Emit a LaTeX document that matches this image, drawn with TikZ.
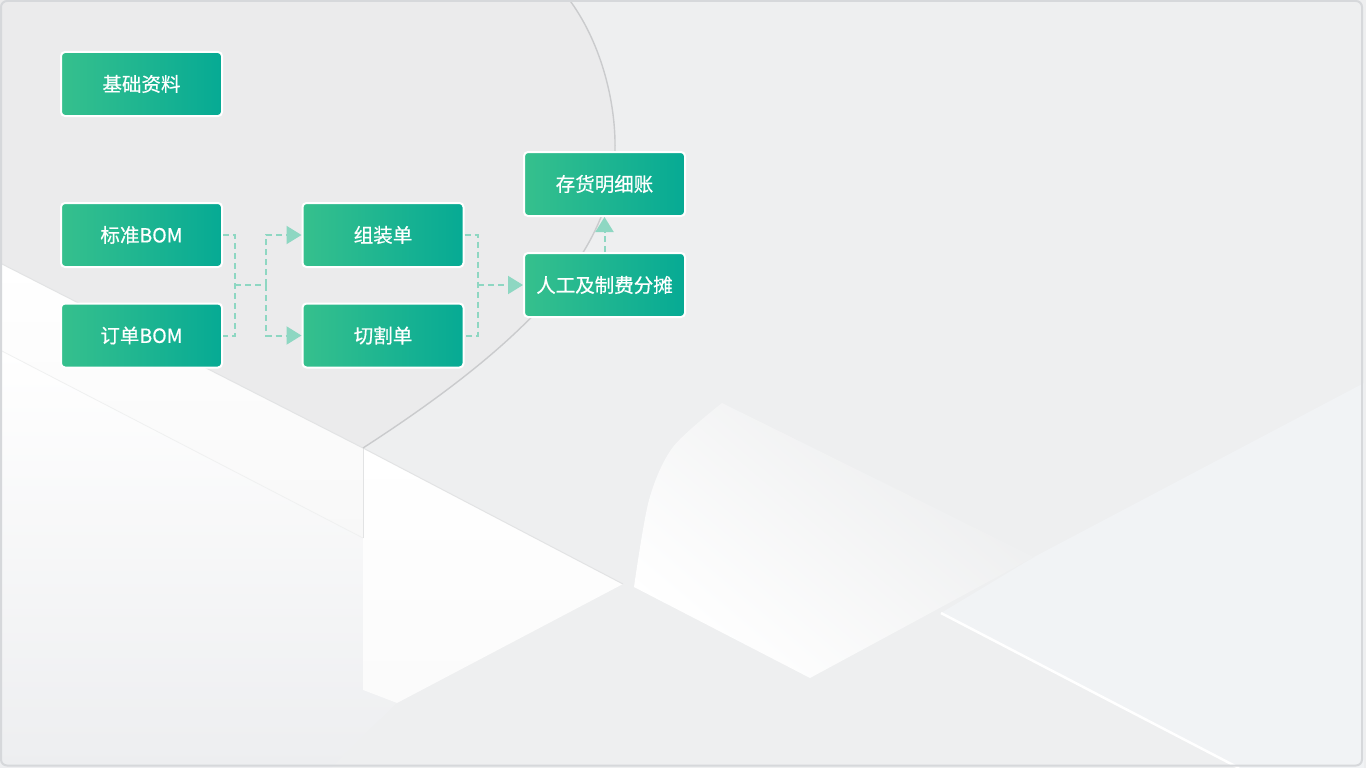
\documentclass[tikz,border=0pt]{standalone}
\usepackage{fontspec}
\newfontfamily\cjkfont[FakeBold=0.5]{Noto Sans CJK SC}
\usetikzlibrary{arrows.meta}
\definecolor{bgbase}{RGB}{238,239,240}
\definecolor{circin}{RGB}{235,235,236}
\definecolor{arcgray}{RGB}{202,203,205}
\definecolor{gleft}{RGB}{54,192,141}
\definecolor{gright}{RGB}{6,170,148}
\definecolor{conncol}{RGB}{142,215,194}
\definecolor{framecol}{RGB}{214,216,219}
\definecolor{lowgray}{RGB}{237,238,240}
\definecolor{lowtop}{RGB}{248,248,248}
\definecolor{rightlite}{RGB}{241,243,245}
\definecolor{plankedge}{RGB}{226,227,228}
\definecolor{quadtop}{RGB}{236,237,238}
\tikzset{
  flowbox/.style={rectangle, rounded corners=4pt, draw=white, line width=2pt,
    left color=gleft, right color=gright, minimum width=161pt, minimum height=64pt,
    inner sep=0pt, text=white, font=\cjkfont\fontsize{19.5}{23}\selectfont},
  conn/.style={draw=conncol, line width=2pt, dash pattern=on 6pt off 4pt},
  arr/.style={-{Triangle[length=15pt,width=18pt,fill=conncol]}},
}
\begin{document}
\begin{tikzpicture}[x=1pt,y=-1pt]
\useasboundingbox (0,0) rectangle (1366,768);
% ---- background ----
\fill[bgbase] (0,0) rectangle (1366,768);
\fill[circin] (0,0) -- (568,-2) .. controls (600,40) and (616,100) .. (615,150)
  .. controls (613,250) and (530,340) .. (363,448) -- (0,263) -- cycle;
\shade[top color=white, bottom color=lowgray] (0,350) -- (363,538) -- (363,690) -- (397,703) -- (330,768) -- (0,768) -- cycle;
\shade[top color=white, bottom color=lowtop] (0,263) -- (363,448) -- (363,538) -- (0,350) -- cycle;
\shade[top color=white, bottom color=lowtop!60!white] (363,448) -- (623,584) -- (397,703) -- (363,690) -- cycle;
\draw[plankedge, line width=1pt] (0,263) -- (363,448) -- (623,584);
\draw[plankedge, line width=0.8pt] (363,448) -- (363,538);
\draw[plankedge!50!white, line width=0.8pt] (0,350) -- (363,538);
\fill[rightlite] (1034,557) -- (1364,383) -- (1364,768) -- (1239,768) -- (941,613) -- cycle;
\shade[top color=quadtop, bottom color=white, shading angle=-40] plot[smooth] coordinates {(722,403) (673,447) (649,500) (634,587)} -- (810,678) -- (1034,557) -- cycle;
\draw[white, line width=2.5pt] (941,613) -- (1239,768);
\draw[arcgray, line width=1.4pt] (568,-2) .. controls (600,40) and (616,100) .. (615,150)
  .. controls (613,250) and (530,340) .. (363,448);
\draw[framecol, line width=2pt, rounded corners=6pt] (1,1) rectangle (1362,765.5);
% ---- nodes ----
\node[flowbox] (jc) at (141.5,84) {基础资料};
\node[flowbox] (bz) at (141.5,235) {标准BOM};
\node[flowbox] (dd) at (141.5,335.5) {订单BOM};
\node[flowbox] (zz) at (383,235) {组装单};
\node[flowbox] (qg) at (383,335.5) {切割单};
\node[flowbox] (ch) at (604.5,184) {存货明细账};
\node[flowbox] (rg) at (604.5,285) {人工及制费分摊};
\coordinate (j1) at (235,285);
\coordinate (j2) at (266,285);
\coordinate (j3) at (478,285);
% ---- connectors ----
\draw[conn] (bz.east) -| (j1) |- (dd.east);
\draw[conn] (j1) -- (j2);
\draw[conn,arr] (j2) |- (zz.west);
\draw[conn,arr] (j2) |- (qg.west);
\draw[conn] (zz.east) -| (j3) |- (qg.east);
\draw[conn,arr] (j3) -- (rg.west);
\draw[conn,arr] (rg.north) -- (ch.south);
\end{tikzpicture}
\end{document}
